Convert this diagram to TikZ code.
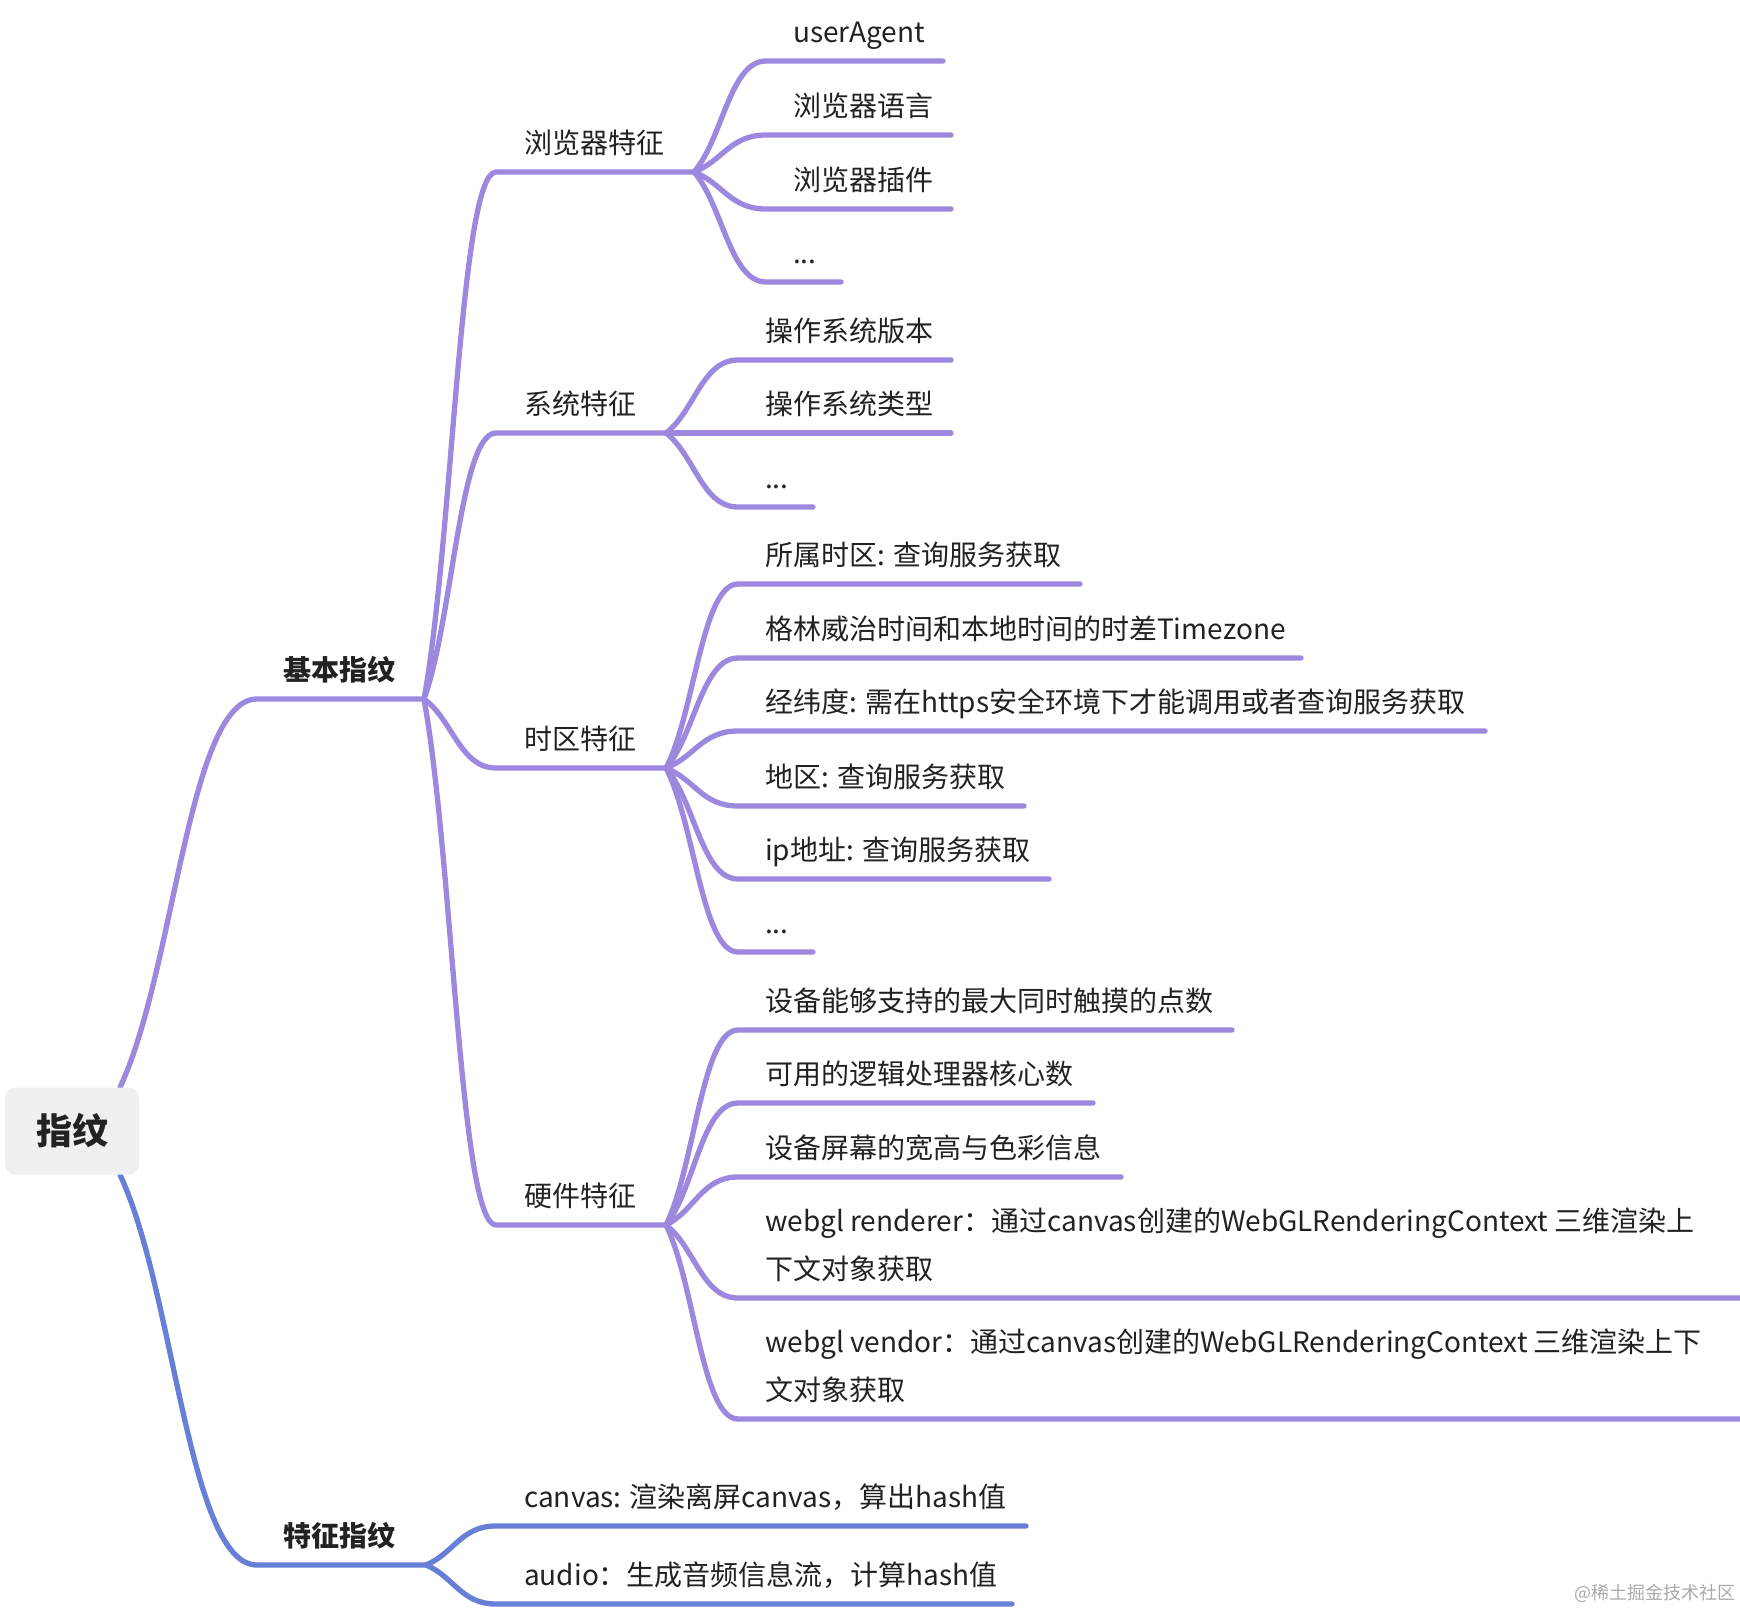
\documentclass[tikz,border=0pt]{standalone}
\usepackage{fontspec}
\setmainfont{Noto Sans CJK SC}
\usetikzlibrary{calc,backgrounds}
\definecolor{pur}{RGB}{156,136,222}
\definecolor{blu}{RGB}{104,127,216}
\definecolor{txt}{RGB}{34,34,34}
\definecolor{rootfill}{RGB}{239,240,241}
\definecolor{wmgray}{RGB}{170,170,170}
% curved mind-map link: from junction #2 to start of underline #3, then along underline to #4
\newcommand\mmlink[4][pur]{%
  \draw[conn,#1] let \p1=(#2), \p2=(#3) in
    (\p1) .. controls ({\x1+0.4*(\x2-\x1)},{\y1+0.3*(\y2-\y1)})
             and ({\x1+0.5*(\x2-\x1)},\y2) .. (\p2) -- (#4);}
\begin{document}
\begin{tikzpicture}[x=1pt,y=-1pt,
  conn/.style={line width=5.3pt,line cap=round,line join=round,pur},
  lbl/.style={anchor=base west,inner sep=0pt,text=txt,font=\fontsize{28}{48}\selectfont},
  lblb/.style={lbl,font=\fontsize{28}{48}\selectfont\bfseries},
  rootbox/.style={fill=rootfill,rounded corners=10pt,minimum width=134pt,minimum height=87pt,
     inner sep=0pt,text=txt,font=\fontsize{36}{40}\selectfont\bfseries}]
\useasboundingbox (0,0) rectangle (1740,1609);

% ---------- nodes ----------
\node[rootbox] (root) at (72,1131) {指纹};
\coordinate (rootT) at ([xshift=48pt]root.north);
\coordinate (rootB) at ([xshift=48pt]root.south);

% level 1
\node[lblb] (jb) at (283,680) {基本指纹};
\coordinate (jbS) at (257,699); \coordinate (jbE) at (424,699);
\node[lblb] (tz) at (283,1546) {特征指纹};
\coordinate (tzS) at (257,1565); \coordinate (tzE) at (426,1565);

% level 2
\node[lbl] (llq) at (524,153) {浏览器特征};
\coordinate (llqS) at (496,172); \coordinate (llqE) at (694,172);
\node[lbl] (xt) at (524,414) {系统特征};
\coordinate (xtS) at (496,433); \coordinate (xtE) at (666,433);
\node[lbl] (sq) at (524,749) {时区特征};
\coordinate (sqS) at (496,768); \coordinate (sqE) at (666,768);
\node[lbl] (yj) at (524,1206) {硬件特征};
\coordinate (yjS) at (496,1225); \coordinate (yjE) at (666,1225);

% level 3: browser
\node[lbl] (ua) at (793,42) {userAgent};
\coordinate (uaS) at (766,61); \coordinate (uaE) at (943,61);
\node[lbl] (lang) at (793,116) {浏览器语言};
\coordinate (langS) at (766,135); \coordinate (langE) at (951,135);
\node[lbl] (plug) at (793,190) {浏览器插件};
\coordinate (plugS) at (766,209); \coordinate (plugE) at (951,209);
\node[lbl] (bdots) at (793,263) {...};
\coordinate (bdotsS) at (766,282); \coordinate (bdotsE) at (841,282);

% level 3: system
\node[lbl] (osv) at (765,341) {操作系统版本};
\coordinate (osvS) at (738,360); \coordinate (osvE) at (951,360);
\node[lbl] (ost) at (765,414) {操作系统类型};
\coordinate (ostS) at (738,433); \coordinate (ostE) at (951,433);
\node[lbl] (sdots) at (765,488) {...};
\coordinate (sdotsS) at (738,507); \coordinate (sdotsE) at (813,507);

% level 3: time zone
\node[lbl] (t1) at (765,565) {所属时区: 查询服务获取};
\coordinate (t1S) at (738,584); \coordinate (t1E) at (1080,584);
\node[lbl] (t2) at (765,639) {格林威治时间和本地时间的时差Timezone};
\coordinate (t2S) at (738,658); \coordinate (t2E) at (1301,658);
\node[lbl] (t3) at (765,712) {经纬度: 需在https安全环境下才能调用或者查询服务获取};
\coordinate (t3S) at (738,731); \coordinate (t3E) at (1485,731);
\node[lbl] (t4) at (765,787) {地区: 查询服务获取};
\coordinate (t4S) at (738,806); \coordinate (t4E) at (1024,806);
\node[lbl] (t5) at (765,860) {ip地址: 查询服务获取};
\coordinate (t5S) at (738,879); \coordinate (t5E) at (1049,879);
\node[lbl] (t6) at (765,933) {...};
\coordinate (t6S) at (738,952); \coordinate (t6E) at (813,952);

% level 3: hardware
\node[lbl] (h1) at (765,1011) {设备能够支持的最大同时触摸的点数};
\coordinate (h1S) at (738,1030); \coordinate (h1E) at (1232,1030);
\node[lbl] (h2) at (765,1084) {可用的逻辑处理器核心数};
\coordinate (h2S) at (738,1103); \coordinate (h2E) at (1093,1103);
\node[lbl] (h3) at (765,1158) {设备屏幕的宽高与色彩信息};
\coordinate (h3S) at (738,1177); \coordinate (h3E) at (1121,1177);
\node[lbl] (h4) at (765,1231) {\begin{tabular}[t]{@{}l@{}}webgl renderer：通过canvas创建的WebGLRenderingContext 三维渲染上\\下文对象获取\end{tabular}};
\coordinate (h4S) at (738,1298); \coordinate (h4E) at (1740,1298);
\node[lbl] (h5) at (765,1352) {\begin{tabular}[t]{@{}l@{}}webgl vendor：通过canvas创建的WebGLRenderingContext 三维渲染上下\\文对象获取\end{tabular}};
\coordinate (h5S) at (738,1419); \coordinate (h5E) at (1740,1419);

% level 2 under 特征指纹
\node[lbl] (cv) at (524,1507) {canvas: 渲染离屏canvas，算出hash值};
\coordinate (cvS) at (496,1526); \coordinate (cvE) at (1026,1526);
\node[lbl] (au) at (524,1585) {audio：生成音频信息流，计算hash值};
\coordinate (auS) at (496,1604); \coordinate (auE) at (1012,1604);

% watermark
\node[anchor=west,inner sep=0pt,text=wmgray,font=\fontsize{18}{22}\selectfont] (wm) at (1574,1593) {@稀土掘金技术社区};

% ---------- connectors ----------
\begin{scope}[on background layer]
\fill[white] (0,0) rectangle (1740,1609);
\mmlink{rootT}{jbS}{jbE}
\mmlink[blu]{rootB}{tzS}{tzE}

\mmlink{jbE}{llqS}{llqE}
\mmlink{jbE}{xtS}{xtE}
\mmlink{jbE}{sqS}{sqE}
\mmlink{jbE}{yjS}{yjE}

\mmlink{llqE}{uaS}{uaE}
\mmlink{llqE}{langS}{langE}
\mmlink{llqE}{plugS}{plugE}
\mmlink{llqE}{bdotsS}{bdotsE}

\mmlink{xtE}{osvS}{osvE}
\mmlink{xtE}{ostS}{ostE}
\mmlink{xtE}{sdotsS}{sdotsE}

\mmlink{sqE}{t1S}{t1E}
\mmlink{sqE}{t2S}{t2E}
\mmlink{sqE}{t3S}{t3E}
\mmlink{sqE}{t4S}{t4E}
\mmlink{sqE}{t5S}{t5E}
\mmlink{sqE}{t6S}{t6E}

\mmlink{yjE}{h1S}{h1E}
\mmlink{yjE}{h2S}{h2E}
\mmlink{yjE}{h3S}{h3E}
\mmlink{yjE}{h4S}{h4E}
\mmlink{yjE}{h5S}{h5E}

\mmlink[blu]{tzE}{cvS}{cvE}
\mmlink[blu]{tzE}{auS}{auE}
\end{scope}
\end{tikzpicture}
\end{document}
